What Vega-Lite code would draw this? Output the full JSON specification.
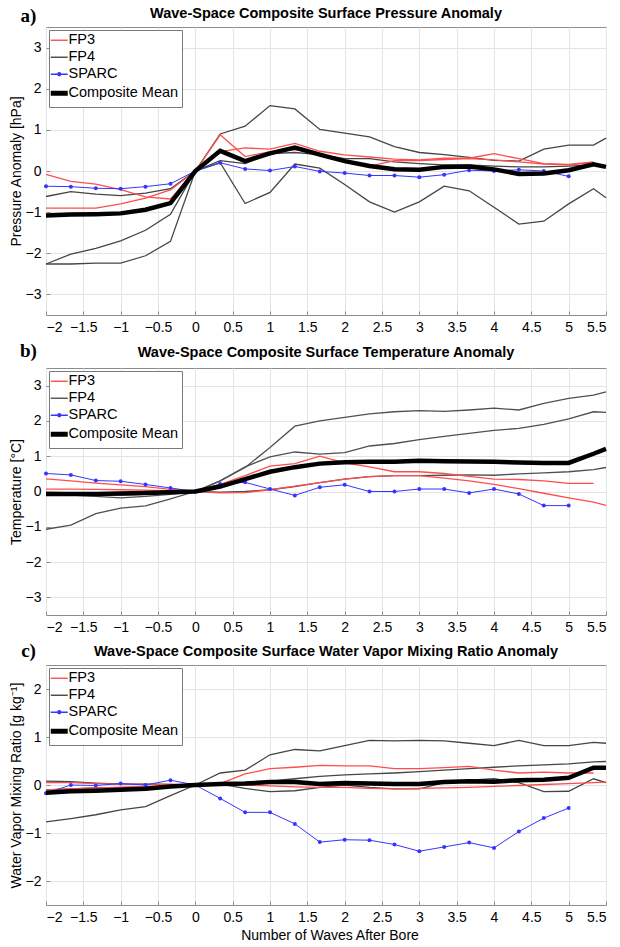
{
  "$schema": "https://vega.github.io/schema/vega-lite/v6.json",
  "padding": {"left": 8, "top": 5, "right": 5, "bottom": 2},
  "spacing": 5,
  "title": {"text": "Number of Waves After Bore", "orient": "bottom", "anchor": "middle", "fontSize": 14, "fontWeight": "normal", "color": "#000", "offset": 4, "dx": 18},
  "resolve": {"scale": {"x": "independent", "y": "independent", "color": "independent"}, "legend": {"color": "independent"}},
  "config": {
    "font": "Liberation Sans",
    "view": {"stroke": "#8c8c8c", "strokeWidth": 1},
    "axis": {"grid": true, "gridColor": "#e4e4e4", "gridWidth": 1, "domain": false, "ticks": true, "tickColor": "#8c8c8c", "tickSize": -4, "labelPadding": 9, "labelFontSize": 14, "labelColor": "#000", "titleFontSize": 14, "titleFontWeight": "normal", "titleColor": "#000"},
    "axisX": {"titleFont": "Liberation Serif", "titleFontWeight": "bold", "titleFontSize": 19, "titleAngle": 0, "titleAlign": "center", "titleBaseline": "middle", "titleX": -18},
    "title": {"fontSize": 14.5, "fontWeight": "bold", "anchor": "middle", "color": "#000", "offset": -15},
    "legend": {"orient": "top-left", "offset": 3, "strokeColor": "#7a7a7a", "fillColor": "#ffffff", "padding": 3, "labelFontSize": 14.5, "labelColor": "#000", "symbolType": "stroke", "symbolSize": 289, "symbolStrokeWidth": 1.4, "labelOffset": 2, "rowPadding": 2, "cornerRadius": 0}
  },
  "datasets": {
    "a": [
      {"x":-2,"r1":-0.08,"r2":-0.9,"g1":-0.62,"g2":-2.26,"g3":-2.26,"s":-0.37,"m":-1.08},
      {"x":-1.667,"r1":-0.25,"r2":-0.9,"g1":-0.5,"g2":-2.02,"g3":-2.26,"s":-0.38,"m":-1.06},
      {"x":-1.333,"r1":-0.32,"r2":-0.9,"g1":-0.56,"g2":-1.88,"g3":-2.24,"s":-0.42,"m":-1.05},
      {"x":-1,"r1":-0.45,"r2":-0.8,"g1":-0.6,"g2":-1.7,"g3":-2.24,"s":-0.43,"m":-1.03},
      {"x":-0.667,"r1":-0.63,"r2":-0.66,"g1":-0.54,"g2":-1.44,"g3":-2.06,"s":-0.38,"m":-0.94},
      {"x":-0.333,"r1":-0.68,"r2":-0.46,"g1":-0.43,"g2":-1.05,"g3":-1.71,"s":-0.31,"m":-0.78},
      {"x":0,"r1":0,"r2":0,"g1":0,"g2":0,"g3":0,"s":0,"m":0},
      {"x":0.333,"r1":0.88,"r2":0.47,"g1":0.9,"g2":0.2,"g3":0.25,"s":0.2,"m":0.49},
      {"x":0.667,"r1":0.35,"r2":0.56,"g1":1.09,"g2":-0.79,"g3":0.18,"s":0.05,"m":0.24},
      {"x":1,"r1":0.47,"r2":0.53,"g1":1.59,"g2":-0.52,"g3":0.42,"s":0.01,"m":0.43},
      {"x":1.333,"r1":0.52,"r2":0.67,"g1":1.51,"g2":0.17,"g3":0.45,"s":0.11,"m":0.57},
      {"x":1.667,"r1":0.42,"r2":0.48,"g1":1.01,"g2":0.07,"g3":0.4,"s":-0.01,"m":0.4},
      {"x":2,"r1":0.22,"r2":0.39,"g1":0.92,"g2":-0.33,"g3":0.3,"s":-0.05,"m":0.24},
      {"x":2.333,"r1":0.12,"r2":0.34,"g1":0.83,"g2":-0.75,"g3":0.3,"s":-0.11,"m":0.12},
      {"x":2.667,"r1":0.25,"r2":0.29,"g1":0.59,"g2":-1.0,"g3":0.22,"s":-0.11,"m":0.04},
      {"x":3,"r1":0.25,"r2":0.27,"g1":0.45,"g2":-0.75,"g3":0.18,"s":-0.15,"m":0.03},
      {"x":3.333,"r1":0.28,"r2":0.31,"g1":0.4,"g2":-0.37,"g3":0.15,"s":-0.09,"m":0.1},
      {"x":3.667,"r1":0.3,"r2":0.31,"g1":0.33,"g2":-0.48,"g3":0.15,"s":0.02,"m":0.11},
      {"x":4,"r1":0.27,"r2":0.42,"g1":0.26,"g2":-0.88,"g3":0.12,"s":0.0,"m":0.04},
      {"x":4.333,"r1":0.22,"r2":0.3,"g1":0.24,"g2":-1.29,"g3":0.1,"s":0.03,"m":-0.07},
      {"x":4.667,"r1":0.17,"r2":0.18,"g1":0.53,"g2":-1.22,"g3":0.1,"s":0.0,"m":-0.06},
      {"x":5,"r1":0.15,"r2":0.16,"g1":0.63,"g2":-0.8,"g3":0.12,"s":-0.13,"m":0.02},
      {"x":5.333,"r1":0.2,"r2":0.22,"g1":0.63,"g2":-0.43,"g3":0.15,"m":0.16},
      {"x":5.5,"g1":0.8,"g2":-0.65,"g3":0.1,"m":0.1}
    ],
    "b": [
      {"x":-2,"r1":0.36,"r2":0.07,"g1":-1.07,"g2":-0.05,"g3":-0.02,"s":0.51,"m":-0.07},
      {"x":-1.667,"r1":0.3,"r2":0.07,"g1":-0.95,"g2":-0.1,"g3":-0.04,"s":0.47,"m":-0.07},
      {"x":-1.333,"r1":0.24,"r2":0.06,"g1":-0.63,"g2":-0.14,"g3":-0.06,"s":0.31,"m":-0.07},
      {"x":-1,"r1":0.19,"r2":0.05,"g1":-0.47,"g2":-0.18,"g3":-0.1,"s":0.29,"m":-0.06},
      {"x":-0.667,"r1":0.14,"r2":0.04,"g1":-0.41,"g2":-0.14,"g3":-0.08,"s":0.2,"m":-0.04},
      {"x":-0.333,"r1":0.06,"r2":0.02,"g1":-0.21,"g2":-0.08,"g3":-0.04,"s":0.1,"m":-0.02},
      {"x":0,"r1":0,"r2":0,"g1":0,"g2":0,"g3":0,"s":0,"m":0},
      {"x":0.333,"r1":0.2,"r2":-0.04,"g1":0.3,"g2":0.3,"g3":-0.02,"s":0.21,"m":0.14},
      {"x":0.667,"r1":0.45,"r2":-0.03,"g1":0.68,"g2":0.7,"g3":0.0,"s":0.26,"m":0.35},
      {"x":1,"r1":0.72,"r2":0.05,"g1":1.25,"g2":0.98,"g3":0.05,"s":0.07,"m":0.56},
      {"x":1.333,"r1":0.79,"r2":0.15,"g1":1.85,"g2":1.12,"g3":0.14,"s":-0.11,"m":0.69},
      {"x":1.667,"r1":1.0,"r2":0.25,"g1":2.0,"g2":1.06,"g3":0.25,"s":0.12,"m":0.79},
      {"x":2,"r1":0.81,"r2":0.35,"g1":2.1,"g2":1.1,"g3":0.35,"s":0.19,"m":0.83},
      {"x":2.333,"r1":0.7,"r2":0.42,"g1":2.2,"g2":1.29,"g3":0.42,"s":0.0,"m":0.84},
      {"x":2.667,"r1":0.56,"r2":0.45,"g1":2.26,"g2":1.36,"g3":0.45,"s":0.0,"m":0.84},
      {"x":3,"r1":0.56,"r2":0.45,"g1":2.29,"g2":1.47,"g3":0.45,"s":0.07,"m":0.87},
      {"x":3.333,"r1":0.51,"r2":0.38,"g1":2.27,"g2":1.56,"g3":0.46,"s":0.07,"m":0.86},
      {"x":3.667,"r1":0.43,"r2":0.3,"g1":2.31,"g2":1.65,"g3":0.47,"s":-0.04,"m":0.85},
      {"x":4,"r1":0.35,"r2":0.2,"g1":2.36,"g2":1.73,"g3":0.46,"s":0.07,"m":0.84},
      {"x":4.333,"r1":0.34,"r2":0.08,"g1":2.31,"g2":1.79,"g3":0.5,"s":-0.07,"m":0.82},
      {"x":4.667,"r1":0.3,"r2":-0.05,"g1":2.5,"g2":1.9,"g3":0.53,"s":-0.4,"m":0.81},
      {"x":5,"r1":0.23,"r2":-0.18,"g1":2.64,"g2":2.06,"g3":0.56,"s":-0.4,"m":0.81},
      {"x":5.333,"r1":0.23,"r2":-0.3,"g1":2.73,"g2":2.26,"g3":0.62,"m":1.07},
      {"x":5.5,"r2":-0.39,"g1":2.82,"g2":2.24,"g3":0.68,"m":1.21}
    ],
    "c": [
      {"x":-2,"r1":0.05,"r2":-0.1,"g1":-0.77,"g2":0.08,"g3":-0.1,"s":-0.17,"m":-0.16},
      {"x":-1.667,"r1":0.05,"r2":-0.08,"g1":-0.7,"g2":0.07,"g3":-0.08,"s":0.0,"m":-0.13},
      {"x":-1.333,"r1":0.03,"r2":-0.06,"g1":-0.62,"g2":0.04,"g3":-0.06,"s":-0.01,"m":-0.12},
      {"x":-1,"r1":0.02,"r2":-0.05,"g1":-0.52,"g2":0.02,"g3":-0.05,"s":0.03,"m":-0.1},
      {"x":-0.667,"r1":0.02,"r2":-0.03,"g1":-0.45,"g2":0.02,"g3":-0.04,"s":0.0,"m":-0.08},
      {"x":-0.333,"r1":0.01,"r2":-0.02,"g1":-0.22,"g2":0.01,"g3":-0.02,"s":0.1,"m":-0.03},
      {"x":0,"r1":0,"r2":0,"g1":0,"g2":0,"g3":0,"s":0,"m":0},
      {"x":0.333,"r1":0.03,"r2":0.03,"g1":0.25,"g2":0.03,"g3":0.02,"s":-0.28,"m":0.02},
      {"x":0.667,"r1":0.23,"r2":0.0,"g1":0.31,"g2":0.05,"g3":-0.07,"s":-0.57,"m":0.03},
      {"x":1,"r1":0.34,"r2":-0.02,"g1":0.63,"g2":0.08,"g3":-0.14,"s":-0.57,"m":0.06},
      {"x":1.333,"r1":0.37,"r2":-0.04,"g1":0.74,"g2":0.13,"g3":-0.12,"s":-0.81,"m":0.06},
      {"x":1.667,"r1":0.41,"r2":-0.05,"g1":0.71,"g2":0.18,"g3":-0.05,"s":-1.19,"m":0.02},
      {"x":2,"r1":0.4,"r2":-0.05,"g1":0.82,"g2":0.21,"g3":0.0,"s":-1.14,"m":0.04},
      {"x":2.333,"r1":0.4,"r2":-0.07,"g1":0.93,"g2":0.23,"g3":-0.05,"s":-1.15,"m":0.03},
      {"x":2.667,"r1":0.34,"r2":-0.08,"g1":0.92,"g2":0.25,"g3":-0.08,"s":-1.24,"m":0.02},
      {"x":3,"r1":0.34,"r2":-0.07,"g1":0.93,"g2":0.28,"g3":-0.08,"s":-1.38,"m":0.02},
      {"x":3.333,"r1":0.36,"r2":-0.06,"g1":0.92,"g2":0.31,"g3":0.05,"s":-1.29,"m":0.06},
      {"x":3.667,"r1":0.39,"r2":-0.05,"g1":0.87,"g2":0.34,"g3":0.1,"s":-1.2,"m":0.08},
      {"x":4,"r1":0.31,"r2":-0.03,"g1":0.82,"g2":0.37,"g3":0.13,"s":-1.31,"m":0.07},
      {"x":4.333,"r1":0.25,"r2":-0.01,"g1":0.93,"g2":0.4,"g3":0.05,"s":-0.97,"m":0.1},
      {"x":4.667,"r1":0.27,"r2":0.01,"g1":0.82,"g2":0.42,"g3":-0.14,"s":-0.69,"m":0.11},
      {"x":5,"r1":0.25,"r2":0.03,"g1":0.82,"g2":0.44,"g3":-0.13,"s":-0.48,"m":0.15},
      {"x":5.333,"r1":0.25,"r2":0.05,"g1":0.89,"g2":0.48,"g3":0.13,"m":0.36},
      {"x":5.5,"r2":0.06,"g1":0.87,"g2":0.49,"g3":0.05,"m":0.36}
    ]
  },
  "vconcat": [
    {
      "width": 560, "height": 288,
      "title": {"text": "Wave-Space Composite Surface Pressure Anomaly", "offset": -15},
      "data": {"name": "a"},
      "encoding": {
        "x": {"field": "x", "type": "quantitative", "scale": {"domain": [-2, 5.5], "nice": false, "zero": false}, "axis": {"title": "a)", "titleY": -300, "values": [-2,-1.5,-1,-0.5,0,0.5,1,1.5,2,2.5,3,3.5,4,4.5,5,5.5], "format": "~g"}},
        "y": {"field": "y", "type": "quantitative", "scale": {"domain": [-3.5, 3.5], "nice": false, "zero": false}, "axis": {"title": "Pressure Anomaly [hPa]", "values": [-3,-2,-1,0,1,2,3], "format": "~g", "titlePadding": 2}}
      },
      "layer": [
        {"data": {"values": [{"v": 0}]}, "mark": {"type": "rule", "color": "#8a8a8a", "strokeWidth": 1.5}, "encoding": {"x": {"field": "v", "type": "quantitative"}, "y": {"datum": -3.5}, "y2": {"datum": 3.5}}},
        {"transform": [{"fold": ["g1","g2","g3"], "as": ["k","y"]}], "mark": {"type": "line", "strokeWidth": 1.3}, "encoding": {"detail": {"field": "k"}, "color": {"datum": "FP4", "type": "nominal", "scale": {"domain": ["FP3","FP4","SPARC","Composite Mean"], "range": ["#ff4d4d","#454545","#3535ff","#000000"]}, "legend": {"title": null, "encode": {"symbols": {"update": {"strokeWidth": {"signal": "datum.value === 'Composite Mean' ? 5 : 1.4"}, "shape": {"signal": "datum.value === 'SPARC' ? 'M-1,0L1,0M-0.17,0A0.17,0.17,0,1,1,0.17,0A0.17,0.17,0,1,1,-0.17,0Z' : 'stroke'"}, "fill": {"signal": "datum.value === 'SPARC' ? '#3535ff' : 'transparent'"}}}}}}}},
        {"transform": [{"fold": ["r1","r2"], "as": ["k","y"]}], "mark": {"type": "line", "strokeWidth": 1.3}, "encoding": {"detail": {"field": "k"}, "color": {"datum": "FP3", "type": "nominal"}}},
        {"transform": [{"fold": ["s"], "as": ["k","y"]}], "mark": {"type": "line", "strokeWidth": 1}, "encoding": {"color": {"datum": "SPARC", "type": "nominal"}}},
        {"transform": [{"fold": ["s"], "as": ["k","y"]}], "mark": {"type": "point", "filled": true, "size": 16, "color": "#3535ff", "opacity": 1}},
        {"transform": [{"fold": ["m"], "as": ["k","y"]}], "mark": {"type": "line", "strokeWidth": 4.5}, "encoding": {"color": {"datum": "Composite Mean", "type": "nominal"}}}
      ]
    },
    {
      "width": 560, "height": 247,
      "title": {"text": "Wave-Space Composite Surface Temperature Anomaly", "offset": -19},
      "data": {"name": "b"},
      "encoding": {
        "x": {"field": "x", "type": "quantitative", "scale": {"domain": [-2, 5.5], "nice": false, "zero": false}, "axis": {"title": "b)", "titleY": -265, "values": [-2,-1.5,-1,-0.5,0,0.5,1,1.5,2,2.5,3,3.5,4,4.5,5,5.5], "format": "~g"}},
        "y": {"field": "y", "type": "quantitative", "scale": {"domain": [-3.5, 3.5], "nice": false, "zero": false}, "axis": {"title": "Temperature [°C]", "values": [-3,-2,-1,0,1,2,3], "format": "~g", "titlePadding": 2}}
      },
      "layer": [
        {"data": {"values": [{"v": 0}]}, "mark": {"type": "rule", "color": "#8a8a8a", "strokeWidth": 1.5}, "encoding": {"x": {"field": "v", "type": "quantitative"}, "y": {"datum": -3.5}, "y2": {"datum": 3.5}}},
        {"transform": [{"fold": ["g1","g2","g3"], "as": ["k","y"]}], "mark": {"type": "line", "strokeWidth": 1.3}, "encoding": {"detail": {"field": "k"}, "color": {"datum": "FP4", "type": "nominal", "scale": {"domain": ["FP3","FP4","SPARC","Composite Mean"], "range": ["#ff4d4d","#505050","#3535ff","#000000"]}, "legend": {"title": null, "encode": {"symbols": {"update": {"strokeWidth": {"signal": "datum.value === 'Composite Mean' ? 5 : 1.4"}, "shape": {"signal": "datum.value === 'SPARC' ? 'M-1,0L1,0M-0.17,0A0.17,0.17,0,1,1,0.17,0A0.17,0.17,0,1,1,-0.17,0Z' : 'stroke'"}, "fill": {"signal": "datum.value === 'SPARC' ? '#3535ff' : 'transparent'"}}}}}}}},
        {"transform": [{"fold": ["r1","r2"], "as": ["k","y"]}], "mark": {"type": "line", "strokeWidth": 1.3}, "encoding": {"detail": {"field": "k"}, "color": {"datum": "FP3", "type": "nominal"}}},
        {"transform": [{"fold": ["s"], "as": ["k","y"]}], "mark": {"type": "line", "strokeWidth": 1}, "encoding": {"color": {"datum": "SPARC", "type": "nominal"}}},
        {"transform": [{"fold": ["s"], "as": ["k","y"]}], "mark": {"type": "point", "filled": true, "size": 16, "color": "#3535ff", "opacity": 1}},
        {"transform": [{"fold": ["m"], "as": ["k","y"]}], "mark": {"type": "line", "strokeWidth": 4.5}, "encoding": {"color": {"datum": "Composite Mean", "type": "nominal"}}}
      ]
    },
    {
      "width": 560, "height": 240,
      "title": {"text": "Wave-Space Composite Surface Water Vapor Mixing Ratio Anomaly", "offset": -18},
      "data": {"name": "c"},
      "encoding": {
        "x": {"field": "x", "type": "quantitative", "scale": {"domain": [-2, 5.5], "nice": false, "zero": false}, "axis": {"title": "c)", "titleY": -255, "values": [-2,-1.5,-1,-0.5,0,0.5,1,1.5,2,2.5,3,3.5,4,4.5,5,5.5], "format": "~g"}},
        "y": {"field": "y", "type": "quantitative", "scale": {"domain": [-2.5, 2.5], "nice": false, "zero": false}, "axis": {"title": "Water Vapor Mixing Ratio [g kg⁻¹]", "values": [-2,-1,0,1,2], "format": "~g", "titlePadding": 2}}
      },
      "layer": [
        {"data": {"values": [{"v": 0}]}, "mark": {"type": "rule", "color": "#8a8a8a", "strokeWidth": 1.5}, "encoding": {"x": {"field": "v", "type": "quantitative"}, "y": {"datum": -2.5}, "y2": {"datum": 2.5}}},
        {"transform": [{"fold": ["g1","g2","g3"], "as": ["k","y"]}], "mark": {"type": "line", "strokeWidth": 1.3}, "encoding": {"detail": {"field": "k"}, "color": {"datum": "FP4", "type": "nominal", "scale": {"domain": ["FP3","FP4","SPARC","Composite Mean"], "range": ["#ff4d4d","#454545","#3535ff","#000000"]}, "legend": {"title": null, "encode": {"symbols": {"update": {"strokeWidth": {"signal": "datum.value === 'Composite Mean' ? 5 : 1.4"}, "shape": {"signal": "datum.value === 'SPARC' ? 'M-1,0L1,0M-0.17,0A0.17,0.17,0,1,1,0.17,0A0.17,0.17,0,1,1,-0.17,0Z' : 'stroke'"}, "fill": {"signal": "datum.value === 'SPARC' ? '#3535ff' : 'transparent'"}}}}}}}},
        {"transform": [{"fold": ["r1","r2"], "as": ["k","y"]}], "mark": {"type": "line", "strokeWidth": 1.3}, "encoding": {"detail": {"field": "k"}, "color": {"datum": "FP3", "type": "nominal"}}},
        {"transform": [{"fold": ["s"], "as": ["k","y"]}], "mark": {"type": "line", "strokeWidth": 1}, "encoding": {"color": {"datum": "SPARC", "type": "nominal"}}},
        {"transform": [{"fold": ["s"], "as": ["k","y"]}], "mark": {"type": "point", "filled": true, "size": 16, "color": "#3535ff", "opacity": 1}},
        {"transform": [{"fold": ["m"], "as": ["k","y"]}], "mark": {"type": "line", "strokeWidth": 4.5}, "encoding": {"color": {"datum": "Composite Mean", "type": "nominal"}}}
      ]
    }
  ]
}
